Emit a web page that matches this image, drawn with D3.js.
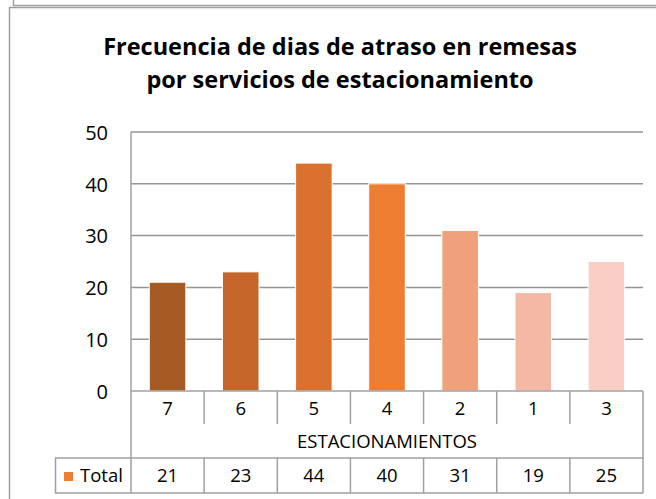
<!DOCTYPE html>
<html>
<head>
<meta charset="utf-8">
<script src="https://cdn.jsdelivr.net/npm/d3@7"></script>
<style>
  body { margin: 0; background: #fff; }
  svg { display: block; font-family: "Open Sans", Lato, sans-serif; }
</style>
</head>
<body>
<div id="chart"></div>
<script>
const categories = ["7", "6", "5", "4", "2", "1", "3"];
const totals = [21, 23, 44, 40, 31, 19, 25];
const yTicks = [0, 10, 20, 30, 40, 50];
const barColors = ["#A65A24", "#C4662A", "#D9722F", "#ED7D31", "#F0A07A", "#F4B9A5", "#F8CFC2"];
const titleLines = ["Frecuencia de dias de atraso en remesas", "por servicios de estacionamiento"];
const axisTitle = "ESTACIONAMIENTOS";
const seriesName = "Total";

const W = 656, H = 499;
const plot = { left: 131, right: 643, top: 132, bottom: 391 };
const row1 = 424, row2 = 458, row3 = 493, tableLeft = 55.5;
const lineColor = "#A0A0A0";

const svg = d3.select("#chart").append("svg")
  .attr("width", W).attr("height", H);

// outer frames
svg.append("path")
  .attr("d", `M13.5,0 V5.5 H${W}`)
  .attr("fill", "none").attr("stroke", lineColor).attr("stroke-width", 1.5);
svg.append("path")
  .attr("d", `M9.5,${H} V7.5 H${W}`)
  .attr("fill", "none").attr("stroke", lineColor).attr("stroke-width", 1.5);

// title
svg.append("text")
  .attr("x", 340).attr("text-anchor", "middle")
  .style("font-weight", "bold").style("font-size", "23.5px").attr("fill", "#000")
  .selectAll("tspan").data(titleLines).enter().append("tspan")
  .attr("x", 340).attr("y", (d, i) => 55 + i * 33)
  .text(d => d);

const x = d3.scaleBand().domain(categories).range([plot.left, plot.right]).padding(0);
const y = d3.scaleLinear().domain([0, 50]).range([plot.bottom, plot.top]);

// gridlines
svg.append("g")
  .selectAll("line").data(yTicks.filter(d => d > 0)).enter().append("line")
  .attr("x1", plot.left).attr("x2", plot.right)
  .attr("y1", d => y(d)).attr("y2", d => y(d))
  .attr("stroke", "#959595").attr("stroke-width", 1.5);

// y axis labels
const yAxis = svg.append("g")
  .attr("transform", `translate(108,0)`)
  .call(d3.axisLeft(y).tickValues(yTicks).tickSize(0).tickPadding(0));
yAxis.select(".domain").remove();
yAxis.selectAll("text")
  .attr("font-family", "'Open Sans', sans-serif").style("font-size", "20px").attr("fill", "#000")
  .attr("dy", "0.36em");

// bars
svg.append("g")
  .selectAll("rect").data(totals).enter().append("rect")
  .attr("x", (d, i) => x(categories[i]) + x.bandwidth() * 0.25)
  .attr("width", x.bandwidth() * 0.5)
  .attr("y", d => y(d))
  .attr("height", d => y(0) - y(d))
  .attr("fill", (d, i) => barColors[i])
  .attr("stroke", "#fff").attr("stroke-width", 1);

// data table
const t = svg.append("g").attr("fill", "none").attr("stroke", lineColor).attr("stroke-width", 1.5);
t.append("line").attr("x1", plot.left).attr("x2", plot.right).attr("y1", plot.bottom).attr("y2", plot.bottom);
t.append("line").attr("x1", plot.left).attr("x2", plot.left).attr("y1", plot.top).attr("y2", row3);
t.append("line").attr("x1", plot.right).attr("x2", plot.right).attr("y1", plot.bottom).attr("y2", row3);
t.selectAll(".d1").data(categories.slice(1)).enter().append("line")
  .attr("x1", d => x(d)).attr("x2", d => x(d)).attr("y1", plot.bottom).attr("y2", row1);
t.selectAll(".d3").data(categories.slice(1)).enter().append("line")
  .attr("x1", d => x(d)).attr("x2", d => x(d)).attr("y1", row2).attr("y2", row3);
t.append("path").attr("d", `M${plot.right},${row2} H${tableLeft} V${row3} H${plot.right}`);

const textStyle = sel => sel.attr("fill", "#000").style("font-size", "18.5px").attr("text-anchor", "middle");

svg.append("g").selectAll("text").data(categories).enter().append("text")
  .call(textStyle)
  .attr("x", d => x(d) + x.bandwidth() / 2).attr("y", 415)
  .text(d => d);

svg.append("text").call(textStyle)
  .attr("x", (plot.left + plot.right) / 2).attr("y", 448)
  .text(axisTitle);

svg.append("g").selectAll("text").data(totals).enter().append("text")
  .call(textStyle)
  .attr("x", (d, i) => x(categories[i]) + x.bandwidth() / 2).attr("y", 482)
  .text(d => d);

// legend key + series name
svg.append("rect")
  .attr("x", 64).attr("y", 472).attr("width", 9).attr("height", 9)
  .attr("fill", "#ED7D31");
svg.append("text")
  .attr("x", 80).attr("y", 482)
  .attr("fill", "#000").style("font-size", "18.5px")
  .text(seriesName);
</script>
</body>
</html>
